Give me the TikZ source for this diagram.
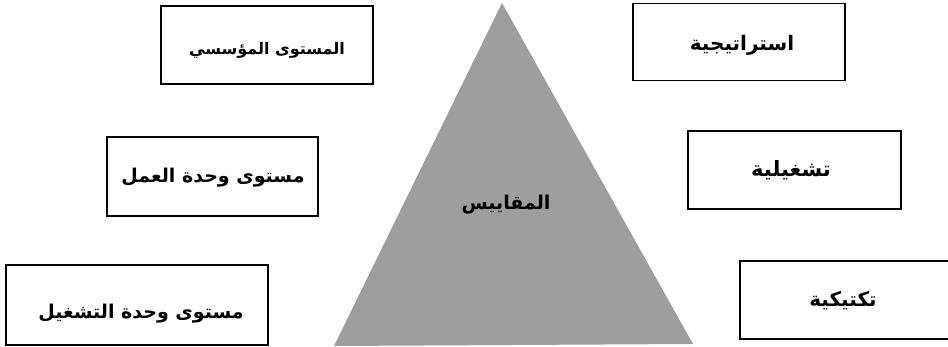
\documentclass[tikz,border=0pt]{standalone}
\usepackage{fontspec}
\newfontfamily\arabicfont[Script=Arabic]{DejaVu Sans}
\TeXXeTstate=1
\definecolor{trigray}{RGB}{158,158,158}
\newcommand{\fsz}[1]{\fontsize{#1}{#1}\selectfont}
\begin{document}
\begin{tikzpicture}[x=1pt,y=-1pt,
  box/.style={draw=black, line width=1.6pt, fill=white, inner sep=0pt},
  lbl/.style={font=\arabicfont\bfseries, text=black, inner sep=0pt}]
\useasboundingbox (0,0) rectangle (948,347);
% triangle
\fill[trigray] (502,3) -- (693,344) -- (334,346) -- cycle;
\node[lbl, font=\arabicfont\bfseries\fsz{19}] (mq) at (506,205) {\beginR المقاييس\endR};
% left boxes
\node[box, minimum width=212pt, minimum height=78pt] (b1) at (267,45) {};
\node[lbl, font=\arabicfont\bfseries\fsz{16}] (t1) at (267,50) {\beginR المستوى المؤسسي\endR};
\node[box, minimum width=211pt, minimum height=79pt] (b3) at (212.5,176.5) {};
\node[lbl, font=\arabicfont\bfseries\fsz{19}] (t3) at (213,178) {\beginR مستوى وحدة العمل\endR};
\node[box, minimum width=262pt, minimum height=80pt] (b5) at (137,305) {};
\node[lbl, font=\arabicfont\bfseries\fsz{19}] (t5) at (141,314) {\beginR مستوى وحدة التشغيل\endR};
% right boxes
\node[box, minimum width=212pt, minimum height=77pt] (b2) at (739,42) {};
\node[lbl, font=\arabicfont\bfseries\fsz{20}] (t2) at (742,45) {\beginR استراتيجية\endR};
\node[box, minimum width=213pt, minimum height=78pt] (b4) at (794.5,170) {};
\node[lbl, font=\arabicfont\bfseries\fsz{21}] (t4) at (791,170) {\beginR تشغيلية\endR};
\node[box, minimum width=220pt, minimum height=78pt] (b6) at (850,300) {};
\node[lbl, font=\arabicfont\bfseries\fsz{20}] (t6) at (843,301) {\beginR تكتيكية\endR};
\end{tikzpicture}
\end{document}
